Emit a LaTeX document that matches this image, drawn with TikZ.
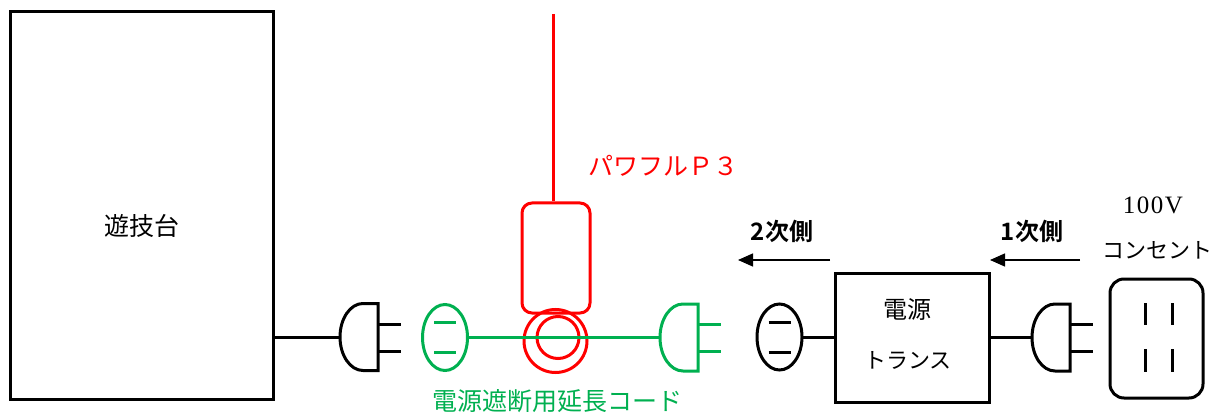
\documentclass[tikz,border=0pt]{standalone}
\usepackage{fontspec}
\usetikzlibrary{arrows.meta}
\newfontfamily\jp{Noto Sans CJK JP}
\newfontfamily\jpb{Noto Sans CJK JP Bold}
\newfontfamily\lserif[LetterSpace=6]{Liberation Serif}
\definecolor{cordgreen}{RGB}{0,176,80}
\definecolor{pred}{RGB}{255,0,0}
\tikzset{
  line/.style={line width=3pt, line cap=butt},
  thinarrow/.style={line width=1.4pt, -{Triangle[length=15pt,width=13pt]}},
  lbl/.style={inner sep=0pt, font=\jp\fontsize{25}{25}\selectfont},
  pics/plugshape/.style={code={
    \draw[line, line join=miter] (0,-33.5) -- (-15,-33.5) arc[start angle=270, end angle=90, x radius=23, y radius=33.5] -- (0,33.5) -- cycle;
    \draw[line] (0,-13) -- (23,-13) (0,14) -- (23,14);
  }},
  pics/socketshape/.style={code={
    \draw[line] (0,0) ellipse[x radius=22.5, y radius=33];
    \draw[line] (-11,-15) -- (11,-15) (-11,15) -- (11,15);
  }}
}
\begin{document}
\begin{tikzpicture}[x=1pt, y=-1pt]
\useasboundingbox (0,0) rectangle (1223,414);
% game machine
\node[draw, line width=3pt, minimum width=263pt, minimum height=387pt, inner sep=0pt] (machine) at (141.5,205.5) {};
\node[lbl] (machinelbl) at (142,226) {遊技台};
% black plug
\coordinate (plugA) at (378,337);
\pic[black] at (plugA) {plugshape};
\coordinate (plugAtip) at (340,337);
\draw[line] (machine.east |- plugAtip) -- (plugAtip);
% red clamp meter
\coordinate (antenna) at (553,14);
\node[draw=pred, line width=3pt, rounded corners=10pt, minimum width=68pt, minimum height=110pt, inner sep=0pt] (p3box) at (556,258) {};
\draw[pred, line width=3pt] (antenna) -- (p3box.north -| antenna);
\node[draw=pred, line width=3pt, circle, minimum size=63pt, inner sep=0pt] (ringout) at (555.5,341) {};
\node[draw=pred, line width=3pt, circle, minimum size=42pt, inner sep=0pt] (ringin) at (558,337.5) {};
\node[lbl, text=pred, anchor=west] (p3lbl) at (588,166) {パワフルＰ３};
% green extension cord
\coordinate (sockG) at (445,337.5);
\pic[cordgreen] at (sockG) {socketshape};
\coordinate (plugG) at (698,337.5);
\pic[cordgreen] at (plugG) {plugshape};
\draw[cordgreen, line width=3pt] (467.5,337.5) -- (660,337.5);
\node[lbl, text=cordgreen] (cordlbl) at (557,401) {電源遮断用延長コード};
% transformer
\coordinate (sockB) at (779.5,337);
\pic[black] at (sockB) {socketshape};
\node[draw, line width=3pt, minimum width=154pt, minimum height=129pt, inner sep=0pt] (trans) at (912,337.5) {};
\node[lbl, font=\jp\fontsize{24}{24}\selectfont] (translbl1) at (907,309) {電源};
\node[lbl, font=\jp\fontsize{22}{22}\selectfont] (translbl2) at (908,360) {トランス};
\draw[line] (802,337) -- (trans.west |- sockB);
\coordinate (plugB) at (1070,337.5);
\pic[black] at (plugB) {plugshape};
\draw[line] (trans.east |- plugB) -- (1032,337.5);
% outlet
\node[draw, line width=3pt, rounded corners=14pt, minimum width=93pt, minimum height=119pt, inner sep=0pt] (outlet) at (1156.5,338.5) {};
\draw[line] (1145,303) -- (1145,325) (1172,303) -- (1172,325)
            (1145,349) -- (1145,372) (1172,349) -- (1172,372);
\node[inner sep=0pt, font=\lserif\fontsize{25}{25}\selectfont] (voltlbl) at (1153,205) {100V};
\node[lbl, font=\jp\fontsize{22}{22}\selectfont] (outletlbl) at (1157,250) {コンセント};
% arrows
\coordinate (a2s) at (830,260);
\coordinate (a2e) at (738,260);
\draw[thinarrow] (a2s) -- (a2e);
\node[lbl, font=\jpb\fontsize{24}{24}\selectfont] (sec) at (782,231) {2次側};
\coordinate (a1s) at (1080,260);
\coordinate (a1e) at (990,260);
\draw[thinarrow] (a1s) -- (a1e);
\node[lbl, font=\jpb\fontsize{24}{24}\selectfont] (pri) at (1032,231) {1次側};
\end{tikzpicture}
\end{document}
